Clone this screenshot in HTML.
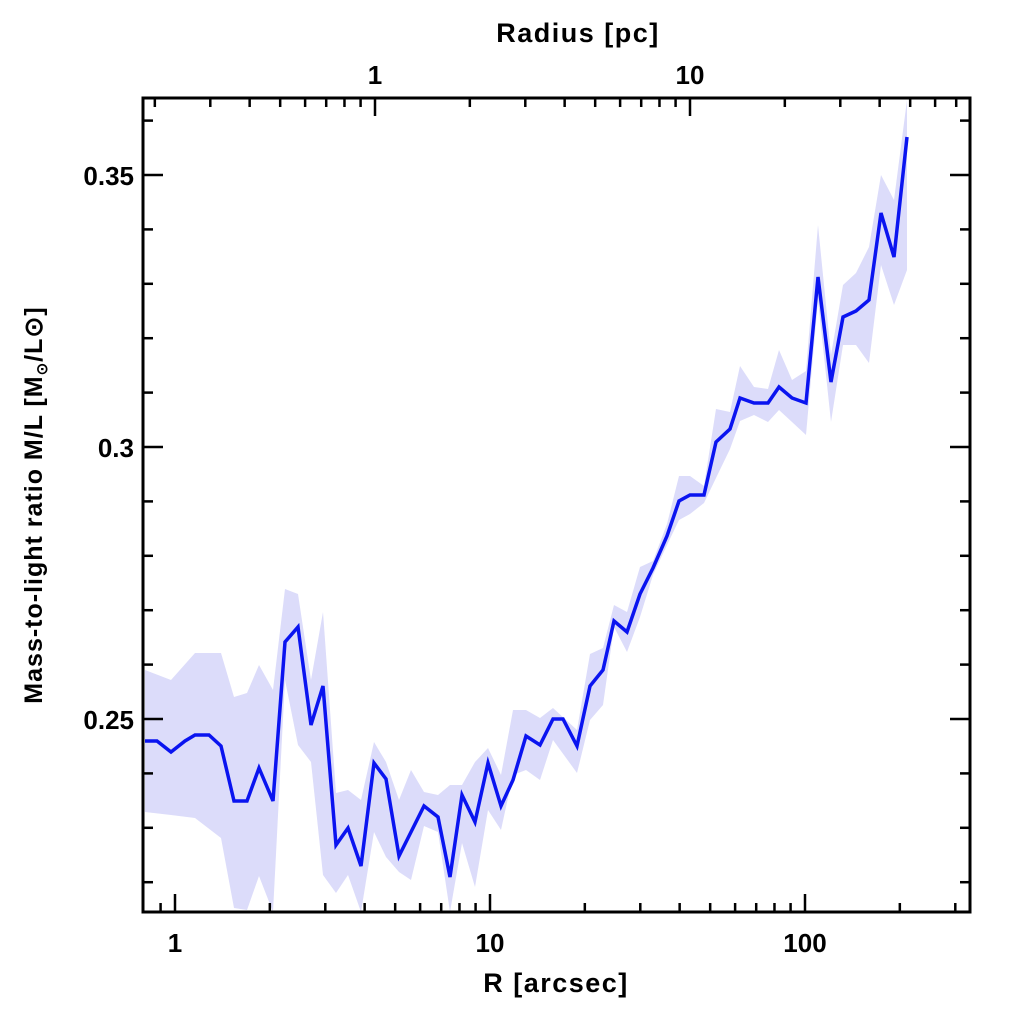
<!DOCTYPE html><html><head><style>body{margin:0;background:#fff}</style></head><body>
<svg id="s" width="1024" height="1024" xmlns="http://www.w3.org/2000/svg" font-family="Liberation Sans, sans-serif" font-weight="bold">
<rect width="1024" height="1024" fill="#fff"/>
<polygon id="band" fill="#dcdcfa"/>
<polyline id="line" fill="none" stroke="#0a14f0" stroke-width="3.5" stroke-linejoin="miter"/>
<g id="ticks" stroke="#000" stroke-width="2.5"></g>
<rect x="143" y="98" width="827" height="814" fill="none" stroke="#000" stroke-width="3"/>
<g font-size="26" text-anchor="middle">
<text x="175" y="952">1</text><text x="490" y="952">10</text><text x="805" y="952">100</text>
<text x="375" y="84">1</text><text x="690" y="84">10</text>
<text x="556" y="992" font-size="27" letter-spacing="1.5">R [arcsec]</text>
<text x="578" y="42" font-size="27" letter-spacing="1.5">Radius [pc]</text>
<text x="134" y="185" text-anchor="end">0.35</text><text x="134" y="457" text-anchor="end">0.3</text><text x="134" y="729" text-anchor="end">0.25</text>
<text transform="translate(42,505) rotate(-90)" font-size="25" letter-spacing="1">Mass-to-light ratio M/L [M<tspan font-size="15" dy="5">⊙</tspan><tspan dy="-5">/L⊙]</tspan></text>
</g>
</svg>
<script>
var P=[[145,741],[157,741],[171,752],[185,741],[195,735],[209,735],[221,746],[234,801],[247,801],[259,768],[273,801],[285,642],[298,627],[311,725],[323,686],[336,845],[348,828],[361,866],[374,763],[386,779],[399,856],[411,832],[424,806],[438,817],[450,877],[462,795],[475,822],[488,763],[501,806],[513,780],[526,736],[540,745],[553,719],[563,719],[577,746],[590,686],[603,670],[614,621],[627,632],[640,594],[653,568],[667,536],[679,501],[690,495],[704,495],[716,442],[730,429],[740,398],[754,403],[768,403],[779,387],[792,398],[806,403],[818,277],[831,382],[843,317],[856,311],[869,300],[881,213],[894,257],[907,137]];
document.getElementById('line').setAttribute('points',P.map(p=>p.join(',')).join(' '));
var U=[[145,670],[171,680],[195,653],[221,653],[234,697],[247,693],[259,665],[273,690],[285,589],[298,594],[311,680],[323,612],[336,793],[348,790],[361,800],[374,742],[386,762],[399,800],[411,770],[424,792],[438,795],[450,785],[462,785],[475,762],[488,748],[501,775],[513,710],[526,710],[540,718],[553,708],[577,730],[590,654],[603,648],[614,605],[627,612],[640,567],[653,561],[667,524],[679,476],[690,476],[704,486],[716,409],[730,412],[740,366],[754,387],[768,389],[779,350],[792,380],[806,371],[818,225],[831,355],[843,285],[856,273],[869,247],[881,175],[894,200],[907,100]];
var L=[[145,812],[171,815],[195,818],[221,838],[234,908],[247,910],[259,876],[273,912],[285,680],[298,745],[311,762],[323,875],[336,893],[348,875],[361,912],[374,832],[386,857],[399,872],[411,880],[424,826],[438,832],[450,912],[462,843],[475,887],[488,810],[501,830],[513,775],[526,770],[540,780],[553,740],[577,773],[590,720],[603,705],[614,627],[627,652],[640,617],[653,575],[667,545],[679,520],[690,514],[704,503],[716,478],[730,449],[740,421],[754,415],[768,422],[779,410],[792,422],[806,435],[818,300],[831,422],[843,345],[856,345],[869,363],[881,265],[894,305],[907,270]];
document.getElementById('band').setAttribute('points',U.concat(L.slice().reverse()).map(p=>p.join(',')).join(' '));
var g=document.getElementById('ticks'),h='';
function ln(a,b,c,d){h+='<line x1="'+a+'" y1="'+b+'" x2="'+c+'" y2="'+d+'"/>';}
for(var dec=-1;dec<3;dec++)for(var m=1;m<10;m++){var x=175+315*(dec+Math.log10(m));if(x<145||x>968)continue;var l=m==1?18:9;ln(x,912,x,912-l);}
for(var dec=-2;dec<3;dec++)for(var m=1;m<10;m++){var x=375+315*(dec+Math.log10(m));if(x<145||x>968)continue;var l=m==1?18:9;ln(x,98,x,98+l);}
for(var k=22;k<=36;k++){var y=719-(k-25)*54.4;if(y<100||y>910)continue;var l=(k%5==0)?20:10;ln(143,y,143+l,y);ln(970,y,970-l,y);}
g.innerHTML=h;
</script>
</body></html>
